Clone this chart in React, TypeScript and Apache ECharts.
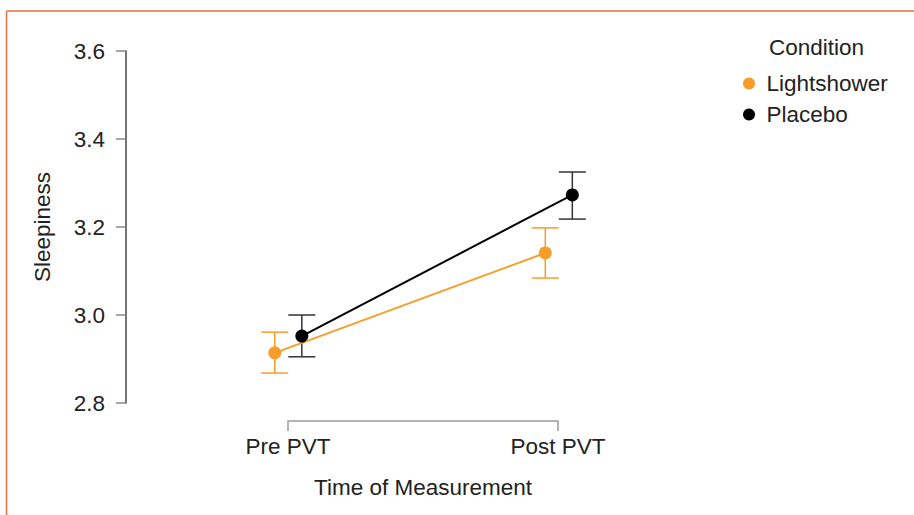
import React, { useEffect, useRef } from "react";
import * as echarts from "echarts";

const categories = ["Pre PVT", "Post PVT"];
const seriesNames = ["Lightshower", "Placebo"];
const lightshowerMean = [2.914, 3.141];
const lightshowerLow = [2.868, 3.084];
const lightshowerHigh = [2.961, 3.198];
const placeboMean = [2.952, 3.273];
const placeboLow = [2.905, 3.218];
const placeboHigh = [3.0, 3.325];
const yMin = 2.8;
const yMax = 3.6;
const yInterval = 0.2;

const ORANGE = "#f99d2a";
const BLACK = "#000000";
const DODGE = 0.05;
const FONT = "Liberation Sans, Arial, Helvetica, sans-serif";
const FS = 22.5;

function errorBarSeries(name: string, color: string, offset: number, lows: number[], highs: number[]) {
  return {
    type: "custom",
    name,
    xAxisIndex: 0,
    yAxisIndex: 0,
    z: 1,
    silent: true,
    encode: { x: 0, y: [1, 2] },
    data: lows.map((lo, i) => [i + 1 + offset, lo, highs[i]]),
    renderItem: (params: any, api: any) => {
      const x = api.value(0);
      const lo = api.coord([x, api.value(1)]);
      const hi = api.coord([x, api.value(2)]);
      const hw = 13.5;
      const style = { stroke: color, lineWidth: 1.5 };
      return {
        type: "group",
        children: [
          { type: "line", shape: { x1: lo[0], y1: lo[1], x2: hi[0], y2: hi[1] }, style },
          { type: "line", shape: { x1: lo[0] - hw, y1: lo[1], x2: lo[0] + hw, y2: lo[1] }, style },
          { type: "line", shape: { x1: hi[0] - hw, y1: hi[1], x2: hi[0] + hw, y2: hi[1] }, style },
        ],
      };
    },
  };
}

function meanSeries(name: string, color: string, offset: number, means: number[]) {
  return {
    type: "line",
    name,
    xAxisIndex: 0,
    yAxisIndex: 0,
    z: 3,
    symbol: "circle",
    symbolSize: 13,
    itemStyle: { color },
    lineStyle: { color, width: 2 },
    data: means.map((m, i) => [i + 1 + offset, m]),
  };
}

export default function App() {
  const ref = useRef<HTMLDivElement>(null);
  useEffect(() => {
    if (!ref.current) return;
    const chart = echarts.init(ref.current, undefined, { renderer: "svg" });
    chart.setOption({
      animation: false,
      backgroundColor: "#ffffff",
      textStyle: { fontFamily: FONT },
      title: {
        text: "Condition",
        left: 769,
        top: 36,
        padding: 0,
        textStyle: { fontSize: FS, fontWeight: "normal", color: "#222", fontFamily: FONT },
      },
      legend: {
        data: seriesNames,
        orient: "vertical",
        left: 743,
        top: 72,
        padding: 0,
        icon: "circle",
        itemWidth: 25,
        itemHeight: 12,
        itemGap: 8,
        textStyle: { fontSize: FS, color: "#222", lineHeight: 23, fontFamily: FONT },
      },
      graphic: [
        { type: "line", shape: { x1: 6.5, y1: 11, x2: 914, y2: 11 }, style: { stroke: "#e8733a", lineWidth: 1.5 } },
        { type: "line", shape: { x1: 6.5, y1: 11, x2: 6.5, y2: 515 }, style: { stroke: "#e8733a", lineWidth: 1.5 } },
      ],
      grid: [
        { left: 126, top: 51, width: 541, height: 352 },
        { left: 288, top: 420, width: 270, height: 1 },
      ],
      xAxis: [
        { type: "value", gridIndex: 0, min: 0.4, max: 2.4, show: false },
        {
          type: "category",
          gridIndex: 1,
          data: categories,
          boundaryGap: false,
          position: "bottom",
          axisLine: { show: true, lineStyle: { color: "#9a9a9a", width: 1.5 } },
          axisTick: { show: true, length: 10, lineStyle: { color: "#9a9a9a", width: 1.5 } },
          axisLabel: { fontSize: FS, color: "#222", margin: 14, fontFamily: FONT },
          name: "Time of Measurement",
          nameLocation: "middle",
          nameGap: 55,
          nameTextStyle: { fontSize: FS, color: "#222", fontFamily: FONT },
          splitLine: { show: false },
        },
      ],
      yAxis: [
        {
          type: "value",
          gridIndex: 0,
          min: yMin,
          max: yMax,
          interval: yInterval,
          axisLine: { show: true, lineStyle: { color: "#444", width: 1.5 } },
          axisTick: { show: true, length: 10, lineStyle: { color: "#888", width: 1.5 } },
          axisLabel: {
            fontSize: FS,
            color: "#222",
            margin: 21,
            fontFamily: FONT,
            formatter: (v: number) => v.toFixed(1),
          },
          splitLine: { show: false },
          name: "Sleepiness",
          nameLocation: "middle",
          nameGap: 72,
          nameTextStyle: { fontSize: FS, color: "#222", fontFamily: FONT },
        },
        { type: "value", gridIndex: 1, show: false },
      ],
      series: [
        errorBarSeries("Placebo SE", "#333333", DODGE, placeboLow, placeboHigh),
        meanSeries("Placebo", BLACK, DODGE, placeboMean),
        errorBarSeries("Lightshower SE", ORANGE, -DODGE, lightshowerLow, lightshowerHigh),
        meanSeries("Lightshower", ORANGE, -DODGE, lightshowerMean),
      ],
    });
    return () => chart.dispose();
  }, []);
  return (
    <div
      ref={ref}
      style={{ position: "fixed", left: 0, top: 0, width: 914, height: 515, background: "#fff" }}
    />
  );
}
